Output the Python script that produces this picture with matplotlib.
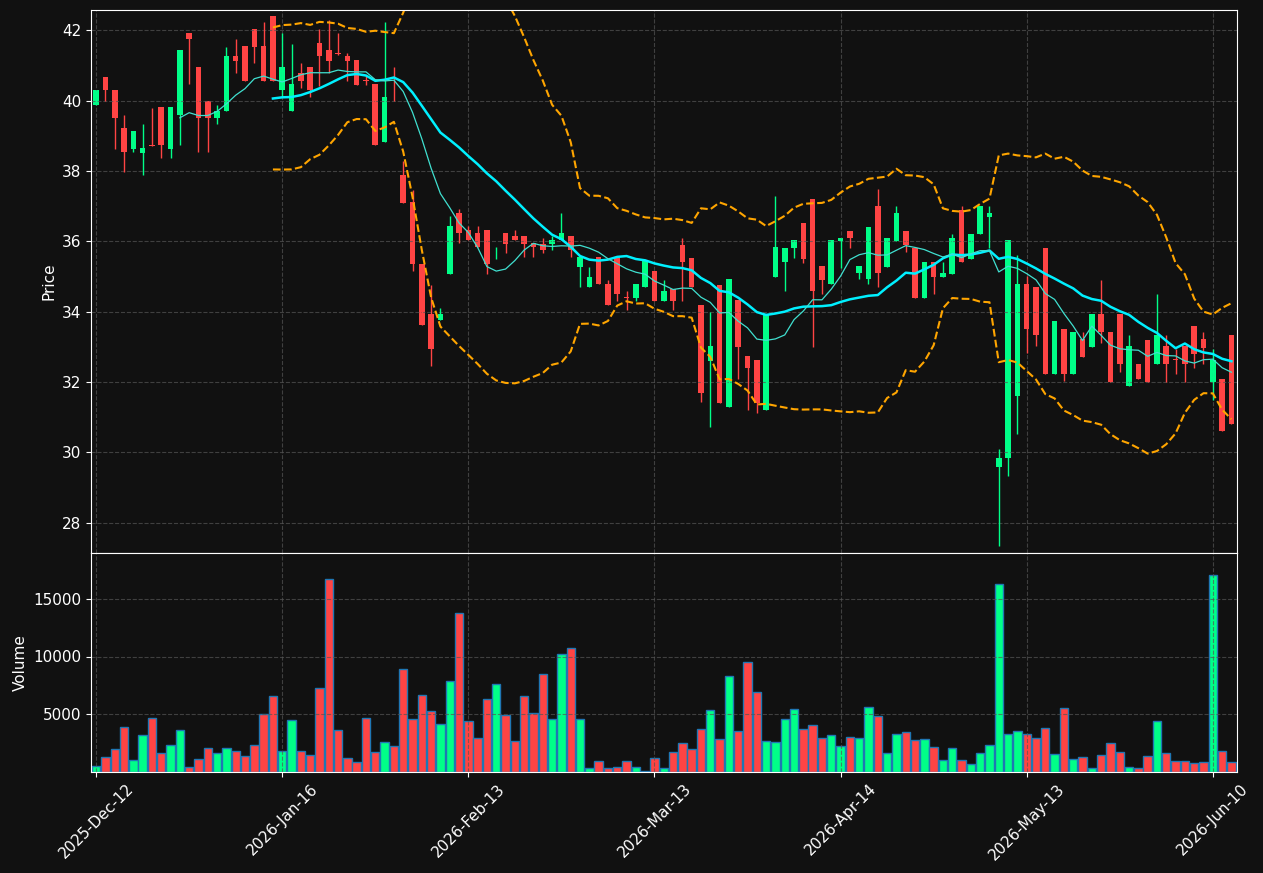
import numpy as np
import pandas as pd
import matplotlib
matplotlib.use("Agg")
import matplotlib.pyplot as plt

opens = [39.88,40.68,40.31,39.23,38.63,38.52,38.73,39.82,38.63,39.6,41.93,40.96,39.99,39.5,39.71,41.28,41.56,42.04,41.56,42.4,
         40.3,39.7,40.78,40.96,41.64,41.45,41.36,41.27,41.17,40.59,40.48,38.84,40.8,37.9,37.11,35.37,33.93,33.77,35.08,36.82,
         36.33,36.24,36.33,35.8,36.24,36.14,36.14,35.95,35.93,35.93,36.04,36.14,35.27,34.69,35.56,34.8,35.55,34.42,34.38,34.69,
         35.17,34.3,34.66,35.91,35.52,34.2,32.6,34.75,31.29,34.33,32.73,32.64,31.21,35.0,35.41,35.8,36.52,37.22,35.31,34.79,
         36.0,36.3,35.1,34.92,37.0,35.28,36.0,36.3,35.82,34.4,35.42,35.0,35.08,36.9,35.5,36.2,36.68,29.59,29.84,31.6,
         34.8,34.71,35.82,32.22,33.51,32.22,33.23,33.0,33.93,33.41,33.93,31.89,32.51,33.2,32.51,33.03,32.65,33.03,33.6,33.22,
         31.99,32.1,33.33]
closes = [40.3,40.3,39.5,38.54,39.15,38.66,38.7,38.73,39.82,41.45,41.75,39.5,39.5,39.71,41.28,41.14,40.57,41.54,40.57,40.57,
          40.96,40.47,40.57,40.3,41.27,41.14,41.33,41.14,40.46,40.57,38.73,40.12,40.78,37.08,35.35,33.62,32.94,33.93,36.45,36.24,
          36.04,35.84,35.35,35.8,35.93,36.04,35.93,35.84,35.75,36.04,36.24,35.75,35.56,35.0,34.78,34.19,34.5,34.4,34.78,35.48,
          34.3,34.59,34.3,35.41,34.69,31.68,33.03,31.4,34.92,33.0,32.4,31.4,33.93,35.83,35.82,36.03,35.49,34.59,34.9,36.03,
          36.11,36.1,35.31,36.42,35.1,36.11,36.82,35.89,34.4,35.42,35.0,35.1,36.11,35.41,36.22,37.0,36.82,29.84,36.03,34.8,
          33.51,33.33,32.22,33.74,32.22,33.41,32.72,33.93,33.41,32.01,32.5,33.02,32.1,32.01,33.33,32.51,32.62,32.51,32.79,32.98,
          32.64,30.6,30.81]
highs = [40.3,40.68,40.31,39.6,39.15,39.33,39.8,39.82,39.82,41.45,41.93,40.96,39.99,39.88,41.54,41.75,41.56,42.04,42.24,42.4,
         41.92,41.6,41.06,40.96,42.03,42.3,41.92,41.36,41.17,40.7,40.48,42.24,40.95,38.3,37.45,35.37,34.76,34.1,36.72,36.93,
         36.45,36.45,36.33,35.85,36.24,36.32,36.14,35.95,36.11,36.14,36.81,36.14,35.56,35.27,35.56,34.9,35.55,34.58,34.78,35.48,
         35.17,34.89,34.66,36.11,35.52,34.2,33.99,34.75,34.92,34.33,32.73,32.64,33.93,37.29,35.82,36.03,36.52,37.22,35.31,36.03,
         36.11,36.3,35.31,36.42,37.49,36.11,37.0,36.3,35.82,35.42,35.42,35.42,36.22,37.0,36.22,37.0,37.0,30.1,36.03,35.62,
         35.03,34.71,35.82,33.74,33.51,33.41,33.41,33.93,34.89,33.41,33.93,33.33,32.51,33.2,34.5,33.33,32.93,33.03,33.6,33.41,
         32.93,32.1,33.33]
lows = [39.88,39.98,38.63,37.97,38.54,37.89,38.7,38.37,38.37,38.73,40.48,38.54,38.54,39.33,39.71,40.78,40.57,41.06,40.57,40.57,
        40.1,39.7,40.36,40.12,40.43,40.8,41.3,40.57,40.46,40.46,38.73,38.84,39.98,37.08,35.17,33.62,32.47,33.77,35.08,35.96,
        36.04,35.84,35.08,35.49,35.66,36.04,35.56,35.57,35.66,35.75,36.04,35.56,34.69,34.69,34.78,34.19,34.31,34.04,34.31,34.69,
        34.3,34.3,34.04,34.31,34.69,31.42,30.71,31.4,31.29,32.1,31.22,31.11,31.21,35.0,34.59,35.52,35.4,33.0,34.5,34.79,
        35.24,35.82,34.92,34.8,34.7,35.28,36.0,35.7,34.4,34.4,34.5,35.0,35.08,35.41,35.5,36.2,35.82,27.35,29.33,30.53,
        32.82,33.02,32.22,32.22,32.02,32.22,32.72,33.0,33.1,32.01,32.3,31.89,32.1,32.01,32.51,32.01,32.22,32.01,32.4,32.51,
        31.5,30.6,30.81]
volumes = [470,1270,1950,3860,1020,3180,4660,1610,2330,3600,380,1060,2040,1570,2040,1780,1360,2330,5000,6570,
           1780,4450,1780,1440,7290,16750,3600,1140,850,4660,1700,2590,2250,8900,4580,6660,5260,4150,7840,13770,
           4410,2880,6270,7630,4920,2630,6570,5090,8480,4540,10180,10730,4580,300,930,300,420,930,420,85,
           1190,340,1700,2460,1950,3730,5380,2800,8270,3480,9540,6870,2670,2540,4580,5430,3730,4070,2880,3140,
           2200,2970,2930,5600,4830,1650,3260,3430,2710,2800,2160,980,2080,980,680,1570,2330,16320,3260,3520,
           3260,2880,3820,1530,5510,1060,1270,300,1440,2460,1700,420,300,1310,4410,1610,930,930,720,850,
           17130,1820,810]
tick_labels = ["2025-Dec-12", "2026-Jan-16", "2026-Feb-13", "2026-Mar-13",
               "2026-Apr-14", "2026-May-13", "2026-Jun-10"]
tick_pos = [0, 20, 40, 60, 80, 100, 120]

BG = "#111111"
UP = "#00ff88"
DN = "#ff4444"

o = np.array(opens); c = np.array(closes); h = np.array(highs); l = np.array(lows)
v = np.array(volumes)
x = np.arange(len(o))
s = pd.Series(c)
ma10 = s.rolling(10).mean()
ma20 = s.rolling(20).mean()
sd20 = s.rolling(20).std(ddof=0)
up_b = ma20 + 2 * sd20
lo_b = ma20 - 2 * sd20

fig = plt.figure(figsize=(12.63, 8.73), dpi=100, facecolor=BG)
ax = fig.add_axes([91/1263, 1-553/873, 1146/1263, 543/873])
axv = fig.add_axes([91/1263, 1-771.5/873, 1146/1263, 218.5/873], sharex=ax)
for a in (ax, axv):
    a.set_facecolor(BG)
    for sp in a.spines.values():
        sp.set_color("white")
    a.tick_params(colors="white", labelsize=11)
    a.grid(True, color="#555555", linestyle="--", linewidth=0.8, alpha=0.7)

cols = [UP if cc >= oo else DN for oo, cc in zip(o, c)]
ax.vlines(x, l, h, colors=cols, linewidth=1)
ax.bar(x, np.maximum(np.abs(c - o), 0.02), bottom=np.minimum(o, c), width=0.6, color=cols)
ax.plot(x, ma20, color="#00f0ff", linewidth=1.8)
ax.plot(x, ma10, color="#40e0d0", linewidth=0.9)
ax.plot(x, up_b, color="#ffa500", linestyle="--", linewidth=1.5)
ax.plot(x, lo_b, color="#ffa500", linestyle="--", linewidth=1.5)
ax.set_ylim(27.14, 42.58)
ax.set_ylabel("Price", color="white", fontsize=11)
plt.setp(ax.get_xticklabels(), visible=False)
ax.tick_params(axis="x", length=0)

axv.bar(x, v, width=0.9, color=cols, edgecolor="#1f77b4", linewidth=1)
axv.set_ylim(0, 19000)
axv.set_yticks([5000, 10000, 15000])
axv.set_ylabel("Volume", color="white", fontsize=11)
axv.set_xlim(-0.55, 122.6)
axv.set_xticks(tick_pos)
axv.set_xticklabels(tick_labels, rotation=45)

fig.savefig("out.png", dpi=100, facecolor=BG)
